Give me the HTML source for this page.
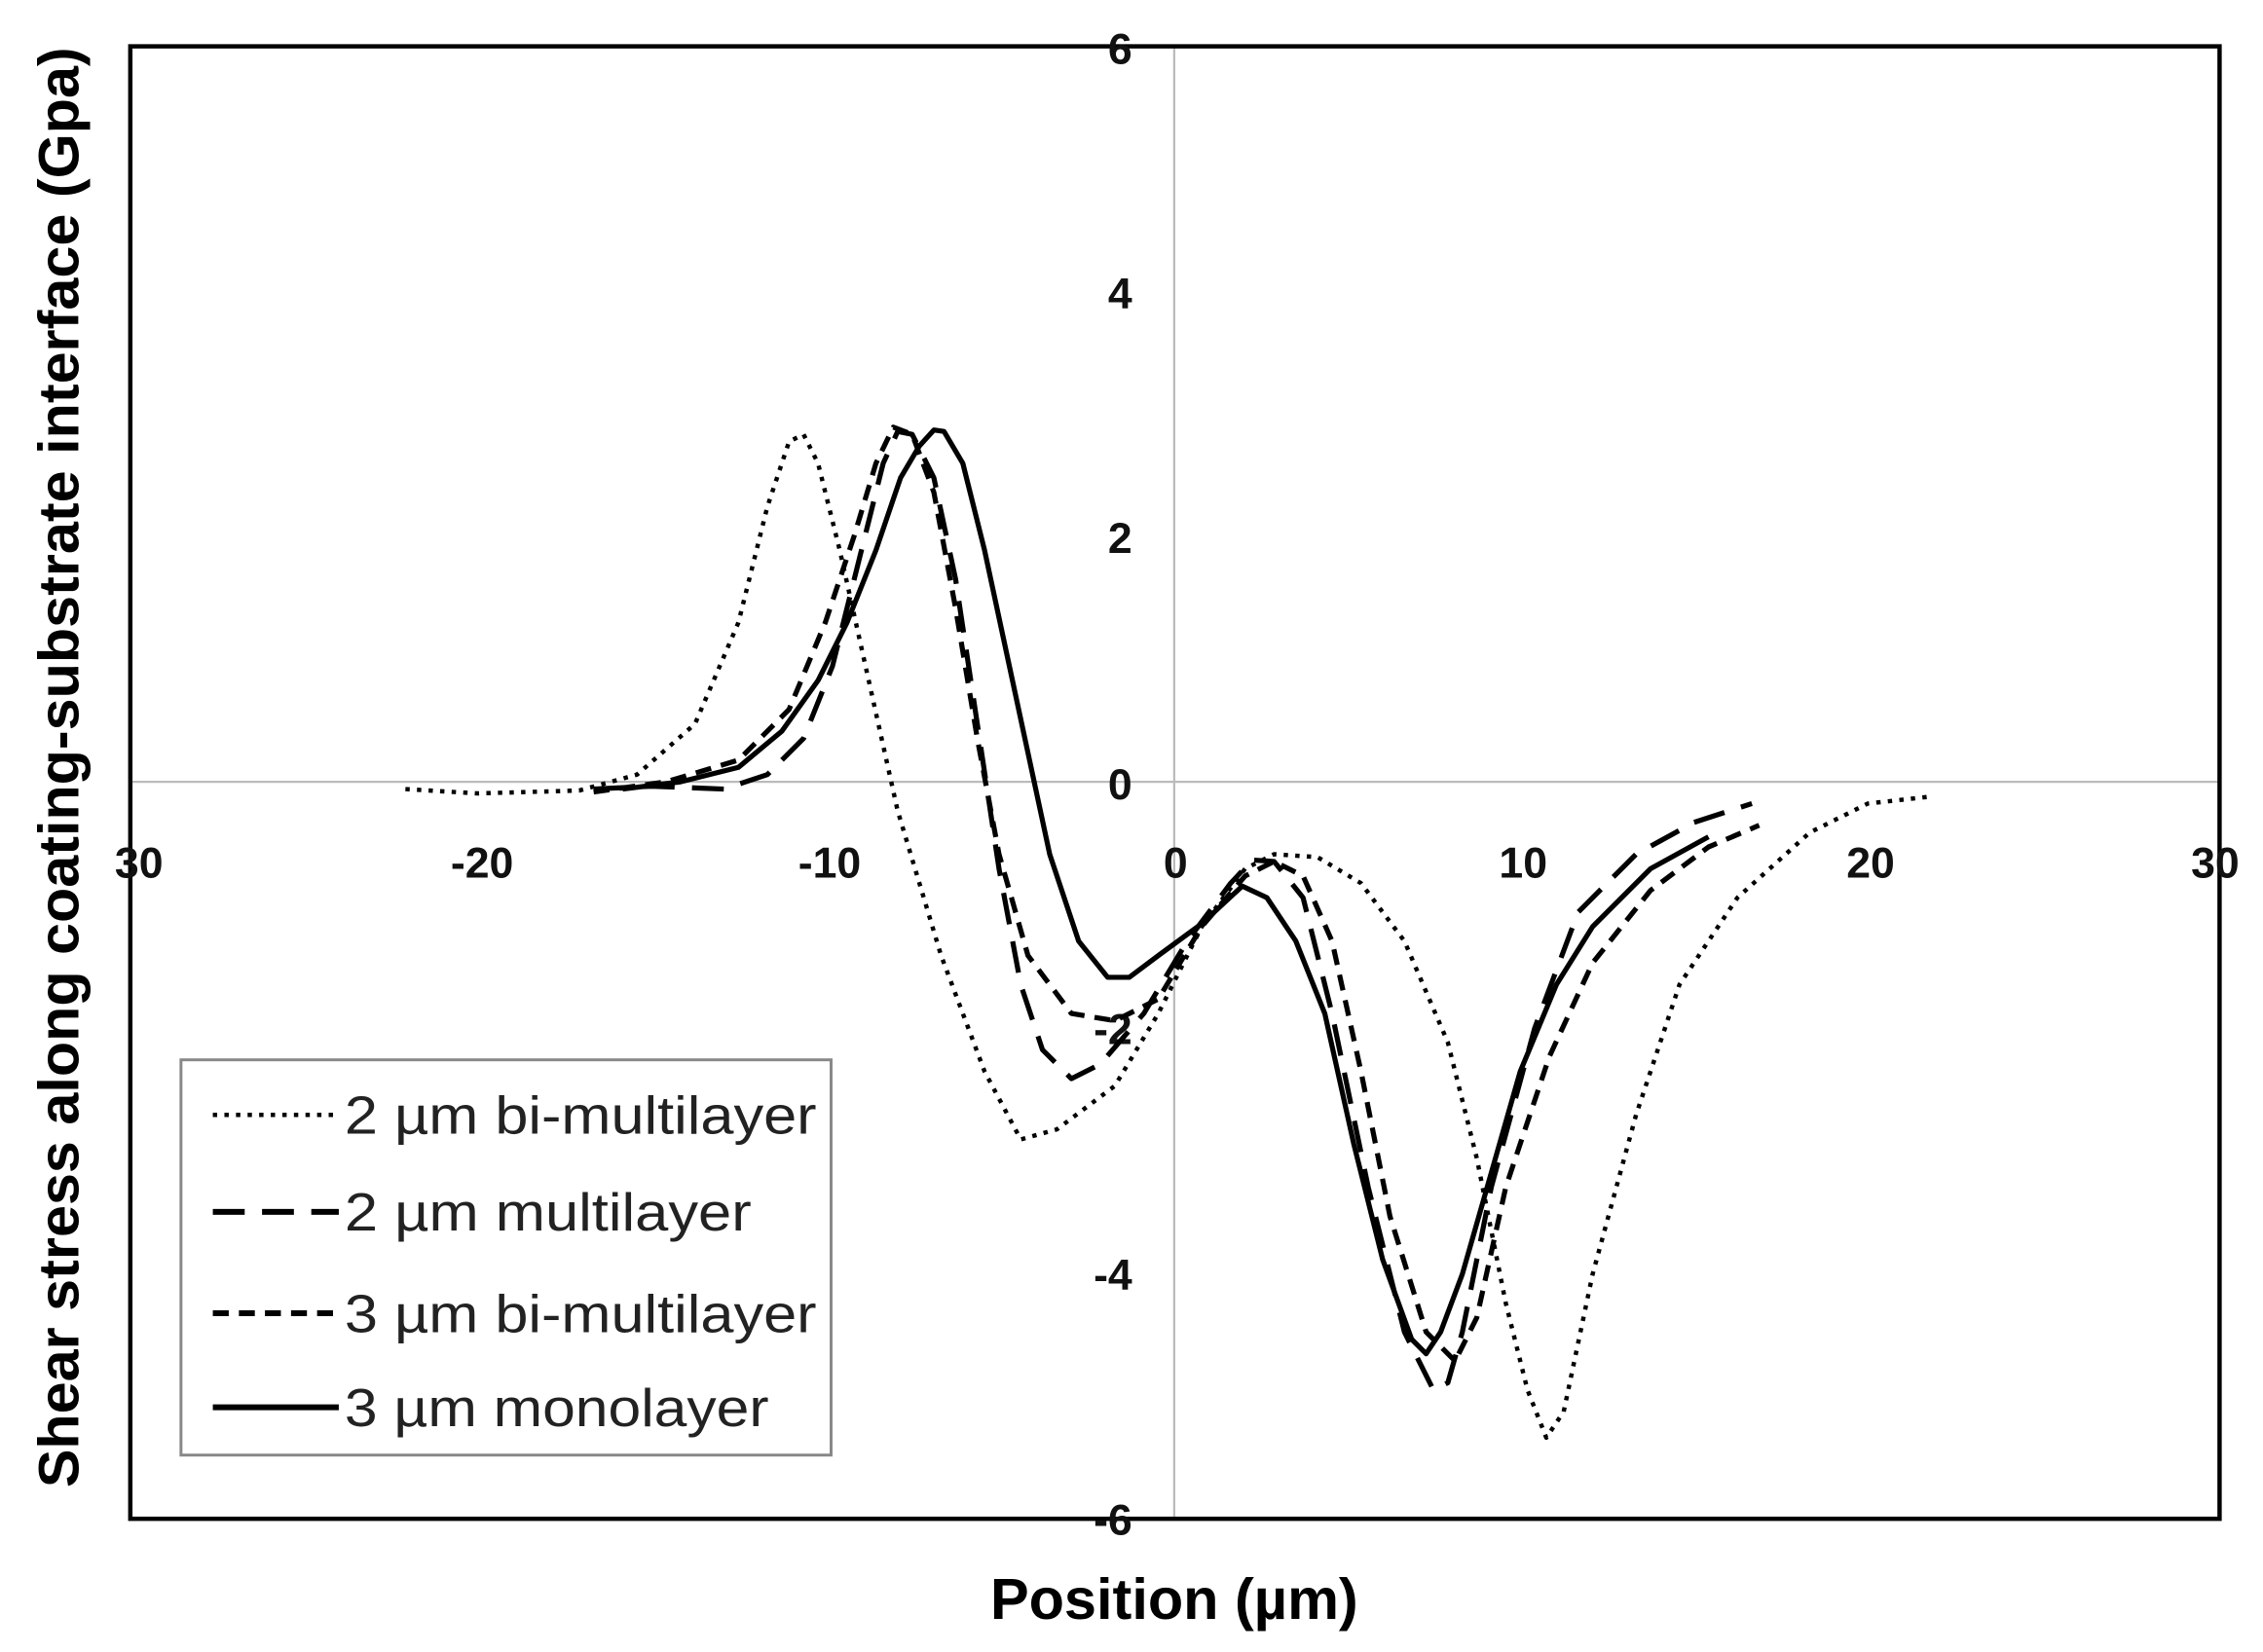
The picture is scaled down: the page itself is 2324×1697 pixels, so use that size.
<!DOCTYPE html>
<html><head><style>html,body{margin:0;padding:0;background:#fff}svg{display:block}</style></head><body>
<svg width="2324" height="1697" viewBox="0 0 1563 1141" preserveAspectRatio="none" xmlns="http://www.w3.org/2000/svg" font-family="Liberation Sans, sans-serif">
<rect width="1563" height="1141" fill="#fff"/>
<line x1="811" y1="32" x2="811" y2="1049" stroke="#bbb" stroke-width="1.5"/>
<line x1="90" y1="540" x2="1533" y2="540" stroke="#bbb" stroke-width="1.5"/>
<rect x="90" y="32" width="1443" height="1017" fill="none" stroke="#000" stroke-width="3"/>
<g font-size="30" font-weight="bold" fill="#111" text-anchor="end">
<text x="782" y="44">6</text><text x="782" y="213">4</text><text x="782" y="382">2</text><text x="782" y="552">0</text>
<text x="782" y="721">-2</text><text x="782" y="891">-4</text><text x="782" y="1060">-6</text></g>
<g font-size="30" font-weight="bold" fill="#111" text-anchor="middle">
<text x="96" y="606">30</text><text x="333" y="606">-20</text><text x="573" y="606">-10</text><text x="812" y="606">0</text>
<text x="1052" y="606">10</text><text x="1292" y="606">20</text><text x="1530" y="606">30</text></g>
<text x="811" y="1118" font-size="40" font-weight="bold" text-anchor="middle">Position (µm)</text>
<text transform="translate(54,530) rotate(-90)" font-size="39" font-weight="bold" text-anchor="middle" textLength="995" lengthAdjust="spacingAndGlyphs">Shear stress along coating-substrate interface (Gpa)</text>
<g fill="none" stroke="#000" stroke-linejoin="round">
<polyline stroke-width="3" stroke-dasharray="3,5" points="280,545 330,548 400,546 440,535 480,500 510,430 530,350 545,305 555,300 565,320 580,380 600,470 620,560 650,660 680,740 705,787 730,780 770,750 800,700 830,640 860,600 880,590 910,592 940,610 970,650 1000,720 1020,800 1040,900 1055,960 1068,993 1080,975 1100,880 1130,770 1160,680 1200,620 1250,575 1290,555 1335,550"/>
<polyline stroke-width="3.5" stroke-dasharray="22,12" points="410,545 450,543 500,545 530,535 555,510 575,460 595,380 610,320 620,298 630,300 645,330 660,400 675,500 690,600 705,680 720,725 740,745 760,735 790,700 820,650 850,610 865,594 880,595 900,620 920,700 945,820 970,920 990,960 1000,955 1010,920 1030,820 1060,710 1090,630 1130,590 1170,568 1210,555"/>
<polyline stroke-width="3.5" stroke-dasharray="11,7" points="410,547 460,540 510,525 545,490 570,430 590,370 605,320 617,295 630,300 645,340 660,420 675,510 690,590 710,660 740,700 770,705 800,690 830,640 860,605 880,595 900,605 920,650 940,740 960,840 985,920 1005,940 1020,910 1040,820 1070,730 1100,665 1140,615 1180,585 1215,570"/>
<polyline stroke-width="3.5" points="430,545 470,540 510,530 540,505 565,470 585,430 605,380 622,330 635,308 645,297 652,298 665,320 680,380 695,450 710,520 725,590 745,650 765,675 780,675 800,660 830,638 858,612 875,620 895,650 915,700 935,790 955,870 975,925 985,935 995,920 1010,880 1030,810 1050,740 1075,680 1100,640 1140,600 1180,578"/>
</g>
<rect x="125" y="732" width="449" height="273" fill="#fff" stroke="#888" stroke-width="2"/>
<g stroke="#000" fill="none">
<line x1="147" y1="770" x2="234" y2="770" stroke-width="3" stroke-dasharray="3,5"/>
<line x1="147" y1="837" x2="234" y2="837" stroke-width="4" stroke-dasharray="22,12"/>
<line x1="147" y1="907" x2="234" y2="907" stroke-width="4" stroke-dasharray="11,7"/>
<line x1="147" y1="972" x2="234" y2="972" stroke-width="4"/>
</g>
<g font-size="37" fill="#222">
<text x="238" y="783" textLength="326" lengthAdjust="spacingAndGlyphs">2 µm bi-multilayer</text><text x="238" y="850" textLength="281" lengthAdjust="spacingAndGlyphs">2 µm multilayer</text>
<text x="238" y="920" textLength="326" lengthAdjust="spacingAndGlyphs">3 µm bi-multilayer</text><text x="238" y="985" textLength="293" lengthAdjust="spacingAndGlyphs">3 µm monolayer</text></g>
</svg>
</body></html>
